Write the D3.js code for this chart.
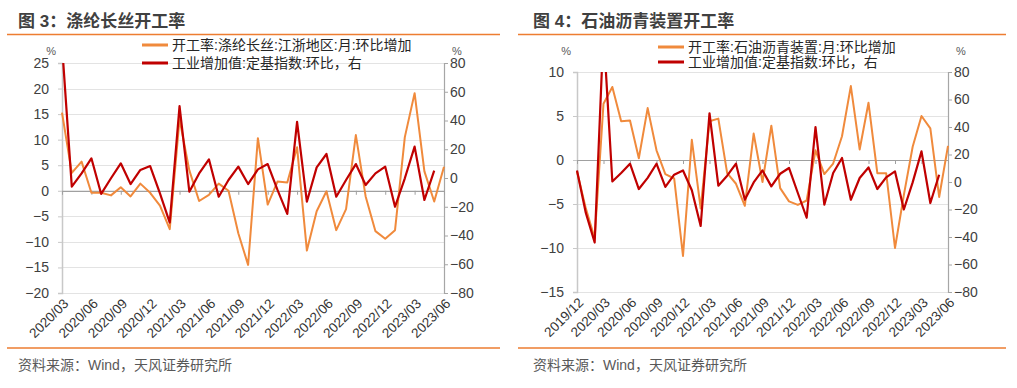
<!DOCTYPE html>
<html>
<head>
<meta charset="utf-8">
<script src="https://cdn.jsdelivr.net/npm/d3@7"></script>
<style>
  body { margin: 0; background: #fff; }
  svg text { font-family: "Liberation Sans", Arial, "Noto Sans CJK SC", sans-serif; }
</style>
</head>
<body>
<div id="charts"></div>
<script>
// chart 3: polyester filament, 2020/03 - 2023/06
var polyMonths = ['2020/03','2020/04','2020/05','2020/06','2020/07','2020/08','2020/09','2020/10','2020/11','2020/12',
  '2021/01','2021/02','2021/03','2021/04','2021/05','2021/06','2021/07','2021/08','2021/09','2021/10','2021/11','2021/12',
  '2022/01','2022/02','2022/03','2022/04','2022/05','2022/06','2022/07','2022/08','2022/09','2022/10','2022/11','2022/12',
  '2023/01','2023/02','2023/03','2023/04','2023/05','2023/06'];
var polyRate = [15.3, 3.5, 5.7, -0.4, -0.4, -0.9, 0.7, -1.1, 1.4, -0.4,
  -2.9, -7.5, 14.0, 4.0, -2.0, -0.8, 1.4, 0.0, -8.3, -14.5, 10.3, -2.7,
  1.8, 1.6, 8.5, -11.7, -4.0, -0.1, -7.7, -3.6, 10.9, -1.1, -7.9, -9.4,
  -7.7, 10.5, 19.1, 3.8, -2.1, 4.7];
var polyIva = [93, -6, 3.2, 13.7, -11.1, -0.2, 10.2, -4.2, 5.6, 8.3,
  -10.7, -31, 50, -9.5, 3.2, 13, -13, -1.4, 7.9, -4.2, 6.0, 9.7,
  -8.3, -25, 39, -16.5, 7.4, 16.7, -13, -1.4, 9.7, -4.9, 3.2, 7.9,
  -20, -0.2, 21.8, -15.3, 5.1];
var polyLeftTicks = [-20, -15, -10, -5, 0, 5, 10, 15, 20, 25];

// chart 4: asphalt units, 2019/12 - 2023/06
var asphMonths = ['2019/12','2020/01','2020/02','2020/03','2020/04','2020/05','2020/06','2020/07','2020/08','2020/09',
  '2020/10','2020/11','2020/12','2021/01','2021/02','2021/03','2021/04','2021/05','2021/06','2021/07','2021/08',
  '2021/09','2021/10','2021/11','2021/12','2022/01','2022/02','2022/03','2022/04','2022/05','2022/06','2022/07',
  '2022/08','2022/09','2022/10','2022/11','2022/12','2023/01','2023/02','2023/03','2023/04','2023/05','2023/06'];
var asphRate = [-1.3, -5.5, -8.9, 6.4, 8.3, 4.4, 4.5, 0.2, 5.9, 1.1,
  -1.6, -2.1, -10.9, 2.3, -5.5, 4.4, 4.7, -1.5, -2.7, -5.2, 3.0,
  -2.5, 3.9, -3.2, -4.7, -5.1, -4.6, 1.1, -1.6, -0.4, 2.7, 8.4,
  1.2, 6.5, -1.5, -1.5, -10.0, -4.0, 1.5, 5.0, 3.6, -4.2, 1.6];
var asphIva = [8.4, -22.5, -44, 110, 0.4, 6.5, 13.3, -5.1, 3, 13.3,
  -3.6, 5.3, 8.4, -6, -32, 50, -2.7, 4.6, 13.3, -12.9, -0.3,
  8.4, -3.2, 6.0, 10.2, -8, -26, 40, -16.5, 6.5, 17.5, -12.9,
  2.9, 10.6, -5.1, 3.4, 7.7, -20, -0.3, 22.3, -15.3, 5.3];
var asphLeftTicks = [-15, -10, -5, 0, 5, 10];

var rightTicks = [-80, -60, -40, -20, 0, 20, 40, 60, 80];

var ORANGE = '#F08A3C';
var RED = '#C00000';

var svg = d3.select('div#charts')
  .append('svg')
  .attr('width', 1017)
  .attr('height', 388);

function drawChart(cfg) {
  var g = svg.append('g');

  // title and orange rules
  g.append('text')
    .attr('x', cfg.left - 44)
    .attr('y', 27)
    .attr('font-size', '17px')
    .attr('font-weight', 'bold')
    .attr('fill', '#404040')
    .text(cfg.title);
  g.append('line')
    .attr('x1', cfg.ruleX[0]).attr('x2', cfg.ruleX[1])
    .attr('y1', 34.5).attr('y2', 34.5)
    .attr('stroke', '#ED7D31').attr('stroke-width', 1.5);
  g.append('line')
    .attr('x1', cfg.ruleX[0]).attr('x2', cfg.ruleX[1])
    .attr('y1', 348).attr('y2', 348)
    .attr('stroke', '#ED7D31').attr('stroke-width', 1.5);
  g.append('text')
    .attr('x', cfg.left - 44)
    .attr('y', 370)
    .attr('font-size', '14px')
    .attr('fill', '#595959')
    .text('资料来源：Wind，天风证券研究所');

  var x = d3.scalePoint()
    .domain(cfg.months)
    .range([cfg.left, cfg.right]);
  var yL = d3.scaleLinear().domain(cfg.leftDomain).range([cfg.bottom, cfg.top]);
  var yR = d3.scaleLinear().domain([-80, 80]).range([cfg.bottom, cfg.top]);

  // grid
  g.selectAll('line.grid')
    .data(cfg.leftTicks)
    .enter()
    .append('line')
    .classed('grid', true)
    .attr('x1', cfg.left).attr('x2', cfg.right)
    .attr('y1', function(d) { return Math.round(yL(d)) + 0.5; })
    .attr('y2', function(d) { return Math.round(yL(d)) + 0.5; })
    .attr('stroke', '#e3e3e3');

  // left axis
  var axL = g.append('g')
    .attr('transform', 'translate(' + cfg.left + ',0)')
    .call(d3.axisLeft(yL).tickValues(cfg.leftTicks).tickSize(4).tickPadding(9).tickFormat(d3.format('d')));
  axL.select('.domain').attr('stroke', '#c8c8c8').attr('stroke-width', 1.5);
  axL.selectAll('.tick line').attr('stroke', '#c8c8c8');
  axL.selectAll('.tick text').attr('font-size', '14px').attr('fill', '#404040')
    .attr('font-family', '"Liberation Sans", Arial, sans-serif');

  // right axis
  var axR = g.append('g')
    .attr('transform', 'translate(' + cfg.right + ',0)')
    .call(d3.axisRight(yR).tickValues(rightTicks).tickSize(4).tickPadding(2).tickFormat(d3.format('d')));
  axR.select('.domain').attr('stroke', '#a6a6a6').attr('stroke-width', 1.2);
  axR.selectAll('.tick line').attr('stroke', '#a6a6a6');
  axR.selectAll('.tick text').attr('font-size', '14px').attr('fill', '#404040')
    .attr('font-family', '"Liberation Sans", Arial, sans-serif');

  // unit labels
  g.append('text').attr('x', cfg.left - 6).attr('y', 55).attr('text-anchor', 'end')
    .attr('font-size', '11px').attr('fill', '#595959').text('%');
  g.append('text').attr('x', cfg.right + 8).attr('y', 55)
    .attr('font-size', '11px').attr('fill', '#595959').text('%');

  // zero line with quarterly ticks
  var quarterly = cfg.months.filter(function(d, i) { return i % 3 == 0; });
  var axX = g.append('g')
    .attr('transform', 'translate(0,' + yL(0) + ')')
    .call(d3.axisBottom(x).tickValues(quarterly).tickSize(4).tickSizeOuter(0).tickFormat(''));
  axX.select('.domain').attr('stroke', '#a0a0a0').attr('stroke-width', 1.2);
  axX.selectAll('.tick line').attr('stroke', '#a0a0a0');

  // rotated month labels at the bottom
  g.selectAll('text.month')
    .data(quarterly)
    .enter()
    .append('text')
    .classed('month', true)
    .attr('transform', function(d) {
      return 'translate(' + (x(d) + 4) + ',' + (cfg.bottom + 8) + ') rotate(-45)';
    })
    .attr('text-anchor', 'end')
    .attr('dy', '0.35em')
    .attr('font-size', '13.5px')
    .attr('fill', '#333')
    .text(function(d) { return d; });

  // clipped series
  var clipId = 'clip' + cfg.id;
  svg.append('clipPath').attr('id', clipId)
    .append('rect')
    .attr('x', cfg.left - 2).attr('y', cfg.top)
    .attr('width', cfg.right - cfg.left + 4).attr('height', cfg.bottom - cfg.top);

  var lineL = d3.line()
    .x(function(d, i) { return x(cfg.months[i]); })
    .y(function(d) { return yL(d); });
  var lineR = d3.line()
    .x(function(d, i) { return x(cfg.months[i]); })
    .y(function(d) { return yR(d); });

  g.append('path')
    .datum(cfg.rate)
    .attr('clip-path', 'url(#' + clipId + ')')
    .attr('d', lineL)
    .attr('fill', 'none')
    .attr('stroke', ORANGE)
    .attr('stroke-width', 2)
    .attr('stroke-linejoin', 'round');
  g.append('path')
    .datum(cfg.iva)
    .attr('clip-path', 'url(#' + clipId + ')')
    .attr('d', lineR)
    .attr('fill', 'none')
    .attr('stroke', RED)
    .attr('stroke-width', 2.2)
    .attr('stroke-linejoin', 'round');

  // legend
  var legend = [
    {name: cfg.rateName, color: ORANGE, y: cfg.legendY[0]},
    {name: '工业增加值:定基指数:环比，右', color: RED, y: cfg.legendY[1]}
  ];
  var lg = g.selectAll('g.legend')
    .data(legend)
    .enter()
    .append('g')
    .classed('legend', true);
  lg.append('rect')
    .attr('x', cfg.legendX)
    .attr('y', function(d) { return d.y - 1.5; })
    .attr('width', 26)
    .attr('height', 3)
    .attr('fill', function(d) { return d.color; });
  lg.append('text')
    .attr('x', cfg.legendX + 30)
    .attr('y', function(d) { return d.y + 5; })
    .attr('font-size', '14px')
    .attr('fill', '#262626')
    .text(function(d) { return d.name; });
}

drawChart({
  id: 3,
  title: '图 3：涤纶长丝开工率',
  rateName: '开工率:涤纶长丝:江浙地区:月:环比增加',
  months: polyMonths,
  rate: polyRate,
  iva: polyIva,
  leftDomain: [-20, 25],
  leftTicks: polyLeftTicks,
  left: 62, right: 444, top: 63, bottom: 293,
  ruleX: [7, 500],
  legendX: 142,
  legendY: [45, 63]
});

drawChart({
  id: 4,
  title: '图 4：石油沥青装置开工率',
  rateName: '开工率:石油沥青装置:月:环比增加',
  months: asphMonths,
  rate: asphRate,
  iva: asphIva,
  leftDomain: [-15, 10],
  leftTicks: asphLeftTicks,
  left: 577, right: 948, top: 72, bottom: 292,
  ruleX: [518, 1006],
  legendX: 658,
  legendY: [47, 62]
});
</script>
</body>
</html>
